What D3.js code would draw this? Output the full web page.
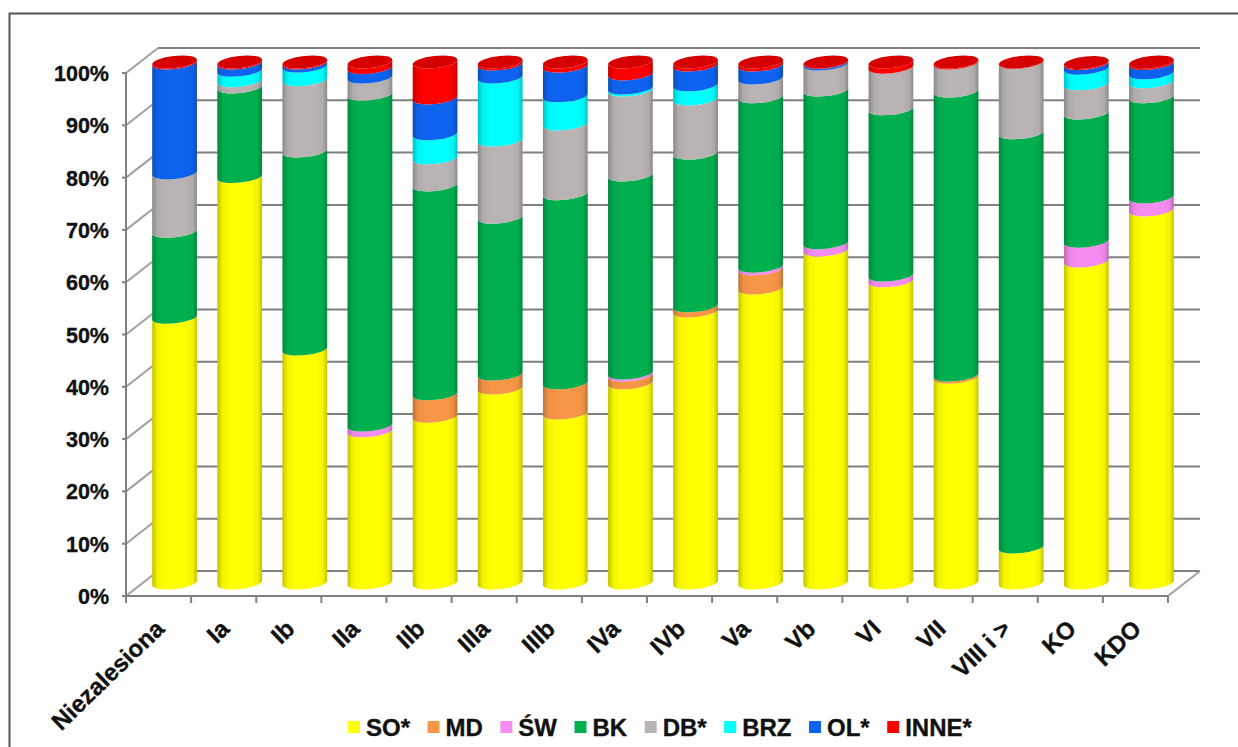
<!DOCTYPE html>
<html><head><meta charset="utf-8">
<style>html,body{margin:0;padding:0;background:#fff}svg{display:block}text{font-family:"Liberation Sans",Arial,sans-serif;font-weight:bold;fill:#111;stroke:#111;stroke-width:.35px}</style>
<script src="https://cdn.jsdelivr.net/npm/d3@7"></script></head><body><div id="c"></div>
<script>
const categories=["Niezalesiona","Ia","Ib","IIa","IIb","IIIa","IIIb","IVa","IVb","Va","Vb","VI","VII","VIII i >","KO","KDO"];
const seriesNames=["SO*","MD","ŚW","BK","DB*","BRZ","OL*","INNE*"];
const seriesColors=["#ffff00","#f79646","#f58cf0","#00b050","#b9b3b3","#00ffff","#0a64f0","#ff0000"];
const SO=[51,78,44.9,29.2,32,37.4,32.6,38.4,52.2,56.6,63.9,58,39.5,6.9,61.8,71.6];
const MD=[0,0,0,0,4.3,2.7,5.8,1.5,1,3.7,0,0,.4,0,0,0];
const SW=[0,0,0,1.1,0,0,0,.4,0,.5,1.4,1.1,0,0,3.8,2.5];
const BK=[16.5,17.2,38,63.5,40.1,30.1,36.3,38,29.3,32.5,29.3,31.9,54.5,79.5,24.6,19.2];
const DB=[11.2,1.2,13.7,3.3,5.2,14.8,13.4,16.3,10.4,3.6,5,8,5.4,13.5,5.6,2.9];
const BRZ=[0,2,2.6,0,4.6,12.1,5.4,.4,2.7,0,0,0,0,0,3,1.7];
const OL=[21.1,1.4,.6,1.8,6.9,2.5,5.7,2.7,3.8,2.5,.3,0,0,0,.9,1.8];
const INNE=[.2,.2,.2,1.1,6.9,.4,.8,2.3,.6,.6,.1,1,.2,.1,.2,.3];
const allSeries=[SO,MD,SW,BK,DB,BRZ,OL,INNE];
const yTicks=[0,10,20,30,40,50,60,70,80,90,100];

const W=1238,H=747,depthX=32,depthY=25,rx=22.5,ry=6,tilt=6;
const svg=d3.select("#c").append("svg").attr("width",W).attr("height",H);
const x=d3.scaleBand().domain(categories).range([126,1168]);
const y=d3.scaleLinear().domain([0,100]).range([596,73]);
const yBar=d3.scaleLinear().domain([0,100]).range([583,62]);

// frame
svg.append("path").attr("d",`M9.5,${H}V13.5H${W}`).attr("fill","none").attr("stroke","#555").attr("stroke-width",2);

// walls
const grid=svg.append("g");
yTicks.forEach(t=>{
  grid.append("line").attr("x1",126+depthX).attr("x2",1168+depthX).attr("y1",y(t)-depthY).attr("y2",y(t)-depthY).attr("stroke","#808080").attr("stroke-width",2);
  grid.append("line").attr("x1",126).attr("x2",126+depthX).attr("y1",y(t)).attr("y2",y(t)-depthY).attr("stroke","#a0a0a0").attr("stroke-width",2);
});
grid.append("line").attr("x1",1168).attr("x2",1168+depthX).attr("y1",y(0)).attr("y2",y(0)-depthY).attr("stroke","#a0a0a0").attr("stroke-width",2);

// axes
const axisG=svg.append("g");
axisG.append("line").attr("x1",126).attr("x2",126).attr("y1",y(100)).attr("y2",y(0)).attr("stroke","#808080").attr("stroke-width",2);
axisG.append("line").attr("x1",122).attr("x2",1168).attr("y1",y(0)).attr("y2",y(0)).attr("stroke","#808080").attr("stroke-width",2);
yTicks.forEach(t=>{
  axisG.append("line").attr("x1",122).attr("x2",126).attr("y1",y(t)).attr("y2",y(t)).attr("stroke","#808080").attr("stroke-width",2);
  axisG.append("text").attr("x",109).attr("y",y(t)+8).attr("text-anchor","end").attr("font-size",21.5).text(t+"%");
});
categories.concat([null]).forEach(c=>{
  const px=c===null?x.range()[1]:x(c);
  axisG.append("line").attr("x1",px).attr("x2",px).attr("y1",y(0)).attr("y2",y(0)+7).attr("stroke","#808080").attr("stroke-width",2);
});
categories.forEach(c=>{
  const cx=x(c)+x.bandwidth()/2+1, cy=624;
  axisG.append("text").attr("transform",`translate(${cx},${cy}) rotate(-44)`).attr("text-anchor","end").attr("font-size",24).attr("x",0).attr("y",9).text(c);
});

// gradients and a slight softening
const defs=svg.append("defs");
defs.append("filter").attr("id","soft").attr("x","-5%").attr("width","110%").append("feGaussianBlur").attr("stdDeviation",0.6);
seriesColors.forEach((col,i)=>{
  const g=defs.append("linearGradient").attr("id","g"+i).attr("x1","0").attr("x2","1").attr("y1","0").attr("y2","0");
  const dark=d3.color(col).darker(0.75).formatHex();
  const mid=d3.color(col).darker(0.12).formatHex();
  [[0,dark],[.12,mid],[.3,col],[.75,col],[.9,mid],[1,dark]].forEach(([o,c])=>g.append("stop").attr("offset",o).attr("stop-color",c));
});

// cylinders
const t=tilt*Math.PI/180, ex=rx*Math.cos(t), ey=rx*Math.sin(t);
const bars=svg.append("g").attr("filter","url(#soft)");
categories.forEach((c,ci)=>{
  const cx=x(c)+x.bandwidth()/2+depthX/2;
  let cum=0;
  allSeries.forEach((s,si)=>{
    const v=s[ci];
    if(v<=0)return;
    const y0=yBar(cum), y1=yBar(cum+v);
    cum+=v;
    const d=`M${cx-ex},${y0+ey}A${rx},${ry},${-tilt},0,0,${cx+ex},${y0-ey}L${cx+ex},${y1-ey}A${rx},${ry},${-tilt},0,1,${cx-ex},${y1+ey}Z`;
    bars.append("path").attr("d",d).attr("fill",`url(#g${si})`);
  });
  const yTop=yBar(cum);
  bars.append("ellipse").attr("cx",cx).attr("cy",yTop).attr("rx",rx).attr("ry",ry)
    .attr("transform",`rotate(${-tilt},${cx},${yTop})`).attr("fill","#d60000");
});

// legend
let lx=348;
const leg=svg.append("g");
seriesNames.forEach((n,i)=>{
  leg.append("rect").attr("x",lx).attr("y",721).attr("width",12).attr("height",12).attr("fill",seriesColors[i]);
  const tx=leg.append("text").attr("x",lx+18).attr("y",736).attr("font-size",24).text(n);
  lx+=18+tx.node().getComputedTextLength()+17.5;
});
</script></body></html>
